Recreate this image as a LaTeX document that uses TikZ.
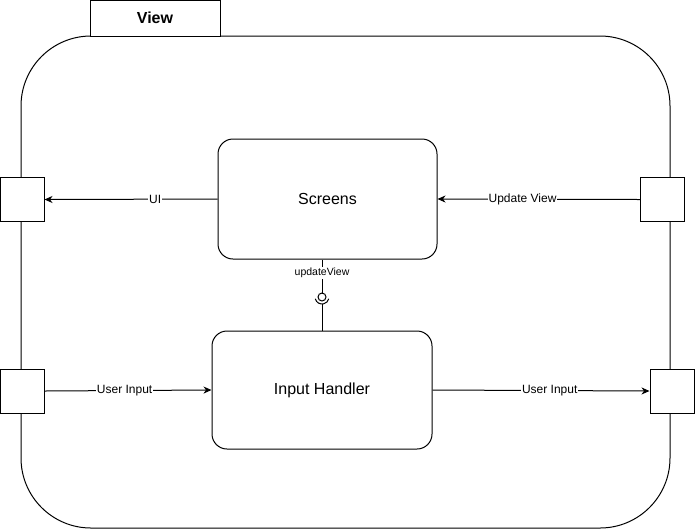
\documentclass[tikz,border=0pt]{standalone}
\usepackage{fontspec}
\setmainfont{Liberation Sans}
\usetikzlibrary{arrows.meta}

\begin{document}
\begin{tikzpicture}[
    x=1pt, y=-1pt, line width=1pt,
    every node/.style={font=\fontsize{12}{14}\selectfont},
    comp/.style={draw, rounded corners=15pt, minimum width=219pt, minimum height=120pt, font=\fontsize{16}{19}\selectfont},
    port/.style={draw, fill=white, minimum width=44pt, minimum height=44pt},
    lbl/.style={fill=white, inner sep=1pt},
    flow/.style={-{Stealth[length=8pt, width=7pt, inset=2.5pt]}}
]
\useasboundingbox (0,0) rectangle (695,531);

% container
\node (view) [draw, rounded corners=70pt, minimum width=649pt, minimum height=492pt] at (345.5,282) {};
\node (tab) [draw, fill=white, minimum width=130pt, minimum height=36pt, font=\fontsize{16}{19}\selectfont\bfseries] at (155,18) {View};

% ports
\node (pUI) [port] at (22,199.5) {};
\node (pIn) [port] at (22,391) {};
\node (pUpd) [port] at (662.5,199.5) {};
\node (pOut) [port] at (672,391) {};

% components
\node (scr) [comp] at (327.5,199) {Screens};
\node (ih) [comp, minimum width=220pt, minimum height=118pt] at (322,390) {Input Handler};

\draw[flow] (scr.west) -- (pUI.east) node[lbl, pos=0.36] {UI};
\draw[flow] (pUpd.west) -- (scr.east) node[lbl, pos=0.58] {Update View};
\draw[flow] (pIn.east) -- (ih.west) node[lbl, pos=0.48] {User Input};
\draw[flow] (ih.east) -- (pOut.west) node[lbl, pos=0.54] {User Input};

% updateView interface
\coordinate (ball) at (322,297);
\draw (ih.north |- scr.south) -- ++(0,34) coordinate (bt);
\draw (ball) circle (4pt);
\draw (322,304) -- (ih.north);
\draw (ball) ++(195:7pt) arc[start angle=195, end angle=345, radius=7pt];
\node (uv) [lbl, font=\fontsize{10.5}{12}\selectfont] at (322,273) {updateView};
\end{tikzpicture}
\end{document}
